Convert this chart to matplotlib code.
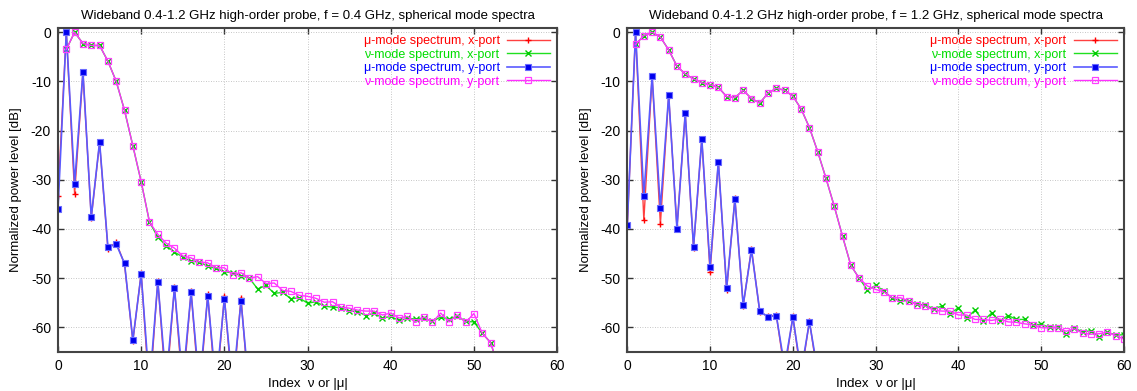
import numpy as np
import matplotlib
matplotlib.use("Agg")
import matplotlib.pyplot as plt

plt.rcParams['font.family'] = ['Liberation Sans', 'DejaVu Sans']
plt.rcParams['axes.unicode_minus'] = False

# f = 0.4 GHz
n_nu_lo = np.arange(1, 54)
nu_x_lo = [-3.5, 0, -2.3, -2.7, -2.7, -5.9, -10, -15.9, -23.1, -30.4,
           -38.6, -41.7, -43.4, -44.7, -45.7, -46.6, -46.7, -47.6, -48.0, -48.7,
           -48.9, -49.5, -50.0, -52.2, -51.5, -53.1, -52.9, -54.2, -54.0, -55.1,
           -54.8, -55.7, -55.9, -56.0, -56.7, -56.8, -57.6, -57.1, -58.1, -57.8,
           -58.6, -58.2, -58.3, -58.1, -58.8, -57.9, -58.4, -57.7, -58.8, -58.9,
           -61.2, -63.1, -68.4]
nu_y_lo = [-3.5, 0, -2.3, -2.7, -2.7, -5.9, -10, -15.9, -23.1, -30.4,
           -38.6, -41.1, -42.9, -43.9, -45.5, -45.9, -46.7, -46.9, -47.9, -47.9,
           -49.3, -48.9, -50.0, -49.7, -51.1, -51.0, -52.5, -52.7, -53.5, -53.7,
           -54.1, -54.9, -54.8, -55.9, -56.1, -56.5, -56.7, -56.7, -57.5, -57.1,
           -58.1, -57.8, -59.0, -57.9, -59.0, -57.1, -58.9, -57.5, -59.0, -57.2,
           -61.2, -63.1, -68.4]
m_mu_lo = np.arange(0, 24)
mu_x_lo = [-33.4, 0, -32.9, -8.2, -37.8, -22.5, -44.0, -42.7, -47.2, -62.8,
           -49.0, -74, -50.5, -73, -51.8, -73, -52.7, -74, -53.3, -74,
           -53.6, -74, -54.0, -75]
mu_y_lo = [-36.0, 0, -30.8, -8.0, -37.6, -22.3, -43.7, -43.1, -47.0, -62.6,
           -49.2, -72, -50.7, -71, -52.0, -71, -52.9, -72, -53.7, -72,
           -54.2, -72, -54.7, -73]

# f = 1.2 GHz
n_nu_hi = np.arange(1, 61)
nu_x_hi = [-2.5, -0.7, 0, -1.0, -3.6, -6.9, -8.5, -9.5, -10.3, -10.7,
           -11.2, -13.1, -13.3, -11.8, -13.5, -14.4, -12.4, -11.4, -11.8, -13.0,
           -15.6, -19.4, -24.3, -29.7, -35.4, -41.5, -47.4, -50.0, -52.4, -51.5,
           -52.6, -54.1, -54.6, -54.6, -55.3, -55.5, -56.2, -55.7, -57.2, -56.0,
           -58.1, -56.5, -58.7, -57.1, -58.7, -57.6, -58.4, -58.4, -59.5, -59.4,
           -60.0, -60.0, -61.4, -60.2, -60.9, -60.7, -62.0, -61.0, -61.6, -61.5]
nu_y_hi = [-2.5, -0.7, 0, -1.0, -3.6, -6.9, -8.5, -9.5, -10.3, -10.7,
           -11.2, -13.1, -13.3, -11.8, -13.5, -14.4, -12.4, -11.4, -11.8, -13.0,
           -15.6, -19.4, -24.3, -29.7, -35.4, -41.5, -47.4, -50.0, -51.6, -52.3,
           -52.8, -54.0, -54.0, -54.6, -55.4, -55.7, -56.5, -56.7, -56.7, -57.5,
           -57.5, -58.4, -58.4, -58.6, -58.3, -58.9, -59.0, -59.3, -59.5, -60.1,
           -60.1, -60.1, -60.8, -60.3, -61.2, -61.4, -61.3, -61.0, -61.7, -62.4]
m_mu_hi = np.arange(0, 24)
mu_x_hi = [-39.5, 0, -38.2, -9.0, -39.0, -12.9, -39.7, -16.6, -43.9, -21.8,
           -48.7, -26.4, -52.4, -33.8, -55.6, -44.0, -56.9, -57.8, -57.5, -69,
           -57.8, -70, -58.7, -70]
mu_y_hi = [-39.3, 0, -33.3, -8.9, -35.8, -12.8, -40.0, -16.5, -43.6, -21.7,
           -47.8, -26.3, -52.0, -34.0, -55.5, -44.3, -56.7, -57.9, -57.6, -68,
           -58.0, -69, -58.9, -69]

labels = ['μ-mode spectrum, x-port', 'ν-mode spectrum, x-port',
          'μ-mode spectrum, y-port', 'ν-mode spectrum, y-port']
freqs = ['0.4', '1.2']


def panel(ax, m, mu_x, mu_y, n, nu_x, nu_y, f):
    ax.plot(m, mu_x, color='#ff4040', lw=1.0, marker='+', ms=5,
            mec='#ff0000', mew=1.0, label=labels[0])
    ax.plot(n, nu_x, color='#20e020', lw=1.0, marker='x', ms=4,
            mec='#00cc00', mew=1.0, label=labels[1])
    ax.plot(m, mu_y, color='#5a5aff', lw=1.2, marker='s', ms=4,
            mfc='#0000ee', mec='#6a6aff', mew=0.8, label=labels[2])
    ax.plot(n, nu_y, color='#ff30ff', lw=1.0, marker='s', ms=5,
            mfc='none', mec='#ff40ff', mew=0.9, label=labels[3])

    ax.set_xlim(0, 60)
    ax.set_ylim(-65, 0.9)
    ax.set_xticks(range(0, 61, 10))
    ax.set_yticks(range(-60, 1, 10))
    ax.tick_params(direction='in', top=True, right=True, length=4,
                   width=1, labelsize=10, color='#333333', pad=5)
    ax.grid(True, color='#b4b4b4', linestyle=(0, (1, 2)), lw=0.6)
    for s in ax.spines.values():
        s.set_color('#444444')
        s.set_linewidth(1.5)
    ax.set_xlabel('Index  ν or |μ|', fontsize=9.5, labelpad=4)
    ax.set_ylabel('Normalized power level [dB]', fontsize=9.5, labelpad=6)
    ax.set_title('Wideband 0.4-1.2 GHz high-order probe, f = %s GHz, '
                 'spherical mode spectra' % f, fontsize=9.5, pad=6)

    leg = ax.legend(loc='upper right', markerfirst=False, frameon=False,
                    fontsize=9, handlelength=3.4, labelspacing=0.12,
                    borderaxespad=0.2, handletextpad=0.6)
    for txt, c in zip(leg.get_texts(), ['#ff0000', '#00dd00', '#0000ff', '#ff00ff']):
        txt.set_color(c)


fig = plt.figure(figsize=(11.37, 3.91), dpi=100)
ax1 = fig.add_axes([0.051, 0.100, 0.439, 0.829])
ax2 = fig.add_axes([0.5517, 0.100, 0.4369, 0.829])

panel(ax1, m_mu_lo, mu_x_lo, mu_y_lo, n_nu_lo, nu_x_lo, nu_y_lo, freqs[0])
panel(ax2, m_mu_hi, mu_x_hi, mu_y_hi, n_nu_hi, nu_x_hi, nu_y_hi, freqs[1])

fig.savefig('out.png', dpi=100)
